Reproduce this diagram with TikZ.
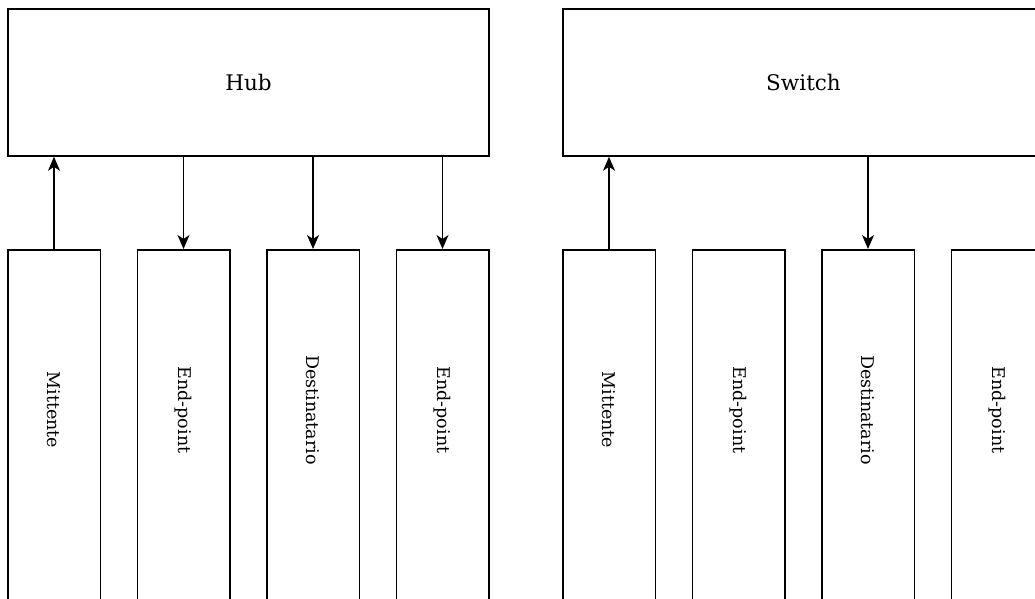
\documentclass[tikz,border=0pt]{standalone}
\usepackage{fontspec}
\setmainfont{DejaVu Serif}
\usetikzlibrary{arrows.meta}
\begin{document}
\begin{tikzpicture}[x=1pt,y=-1pt,
  every node/.style={font=\fontsize{17.5}{20}\selectfont},
  bigbox/.style={draw, line width=1.5pt, minimum width=481pt, minimum height=147pt, inner sep=0pt,
    font=\fontsize{21.5}{24}\selectfont},
  hostbox/.style={draw, line width=1.5pt, minimum width=92.5pt, minimum height=440pt, anchor=north, inner sep=0pt},
  hostlabel/.style={rotate=-90, inner sep=0pt},
  link/.style={line width=1.5pt, -{Stealth[length=14pt,width=12pt,inset=4pt]}}]
  \useasboundingbox (0,0) rectangle (1035,599);
  \clip (0,0) rectangle (1035,599);

  % hub side
  \node[bigbox] (hub) at (248.5,82.5) {Hub};
  \node[hostbox] (h1) at (54,249) {};
  \node[hostbox] (h2) at (183.5,249) {};
  \node[hostbox] (h3) at (313,249) {};
  \node[hostbox] (h4) at (442.5,249) {};
  \node[hostlabel] (h1t) at (54,410) {Mittente};
  \node[hostlabel] (h2t) at (183.5,410) {End-point};
  \node[hostlabel] (h3t) at (313,410) {Destinatario};
  \node[hostlabel] (h4t) at (442.5,410) {End-point};
  \draw[link] (h1.north) -- (h1.north |- hub.south);
  \draw[link] (h2.north |- hub.south) -- (h2.north);
  \draw[link] (h3.north |- hub.south) -- (h3.north);
  \draw[link] (h4.north |- hub.south) -- (h4.north);

  % switch side
  \node[bigbox] (sw) at (803.5,82.5) {Switch};
  \node[hostbox] (s1) at (609,249) {};
  \node[hostbox] (s2) at (738.5,249) {};
  \node[hostbox] (s3) at (868,249) {};
  \node[hostbox] (s4) at (997.5,249) {};
  \node[hostlabel] (s1t) at (609,410) {Mittente};
  \node[hostlabel] (s2t) at (738.5,410) {End-point};
  \node[hostlabel] (s3t) at (868,410) {Destinatario};
  \node[hostlabel] (s4t) at (997.5,410) {End-point};
  \draw[link] (s1.north) -- (s1.north |- sw.south);
  \draw[link] (s3.north |- sw.south) -- (s3.north);
\end{tikzpicture}
\end{document}
